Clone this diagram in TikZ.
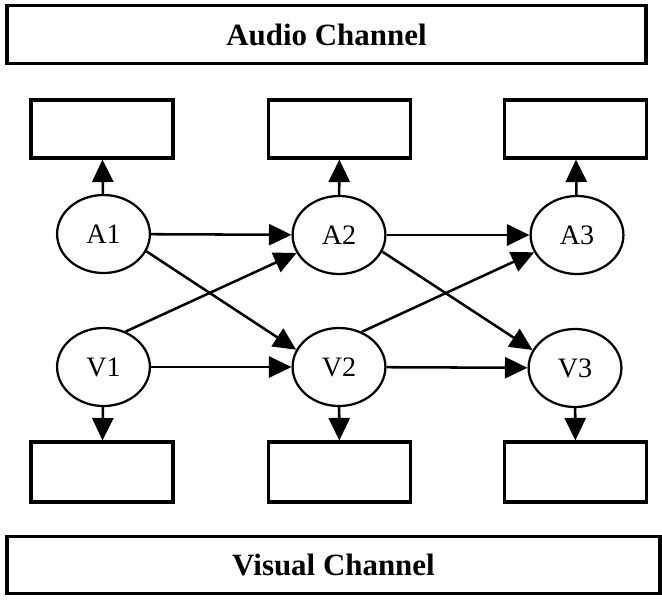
\documentclass[tikz,border=0pt]{standalone}
\usepackage{fontspec}
\setmainfont{Liberation Serif}
\usetikzlibrary{arrows.meta}
\usetikzlibrary{shapes.geometric}

\begin{document}
\begin{tikzpicture}[x=0.025cm,y=-0.025cm,
    chan/.style={draw,line width=2.2pt,inner sep=0pt,minimum height=1.43cm,
        font=\bfseries\fontsize{22}{22}\selectfont},
    outbox/.style={draw,line width=2.2pt,inner sep=0pt,minimum width=3.55cm},
    state/.style={draw,ellipse,line width=1.6pt,inner sep=0pt,
        minimum width=2.32cm,minimum height=1.95cm,font=\fontsize{20}{20}\selectfont},
    link/.style={line width=1.8pt,-{Triangle[length=16pt,width=15pt]}}]
    \useasboundingbox (0,0) rectangle (662,601);
    % channels
    \node[chan,minimum width=15.97cm] (audio) at (326.5,34.5) {Audio Channel};
    \node[chan,minimum width=16.32cm] (visual) at (333.5,565) {Visual Channel};
    % output boxes
    \node[outbox,minimum height=1.45cm] (aout1) at (102,129) {};
    \node[outbox,minimum height=1.45cm] (aout2) at (339.5,129) {};
    \node[outbox,minimum height=1.45cm] (aout3) at (575.5,129) {};
    \node[outbox,minimum height=1.5cm] (vout1) at (102,472) {};
    \node[outbox,minimum height=1.5cm] (vout2) at (339.5,472) {};
    \node[outbox,minimum height=1.5cm] (vout3) at (575.5,472) {};
    % states
    \node[state] (a1) at (103.5,234) {A1};
    \node[state] (a2) at (339,235) {A2};
    \node[state] (a3) at (577,235) {A3};
    \node[state] (v1) at (103.5,367) {V1};
    \node[state] (v2) at (339,367) {V2};
    \node[state] (v3) at (575,368) {V3};
    %
    \draw[link] (a1) -- (aout1);
    \draw[link] (a2) -- (aout2);
    \draw[link] (a3) -- (aout3);
    \draw[link] (v1) -- (vout1);
    \draw[link] (v2) -- (vout2);
    \draw[link] (v3) -- (vout3);
    %
    \draw[link] (a1) -- (a2);
    \draw[link] (a2) -- (a3);
    \draw[link] (v1) -- (v2);
    \draw[link] (v2) -- (v3);
    \draw[link] (a1.-22) -- (v2.158);
    \draw[link] (a2.-21) -- (v3.157);
    \draw[link] (v1.58) -- (a2.203);
    \draw[link] (v2.57) -- (a3.202);
\end{tikzpicture}
\end{document}
